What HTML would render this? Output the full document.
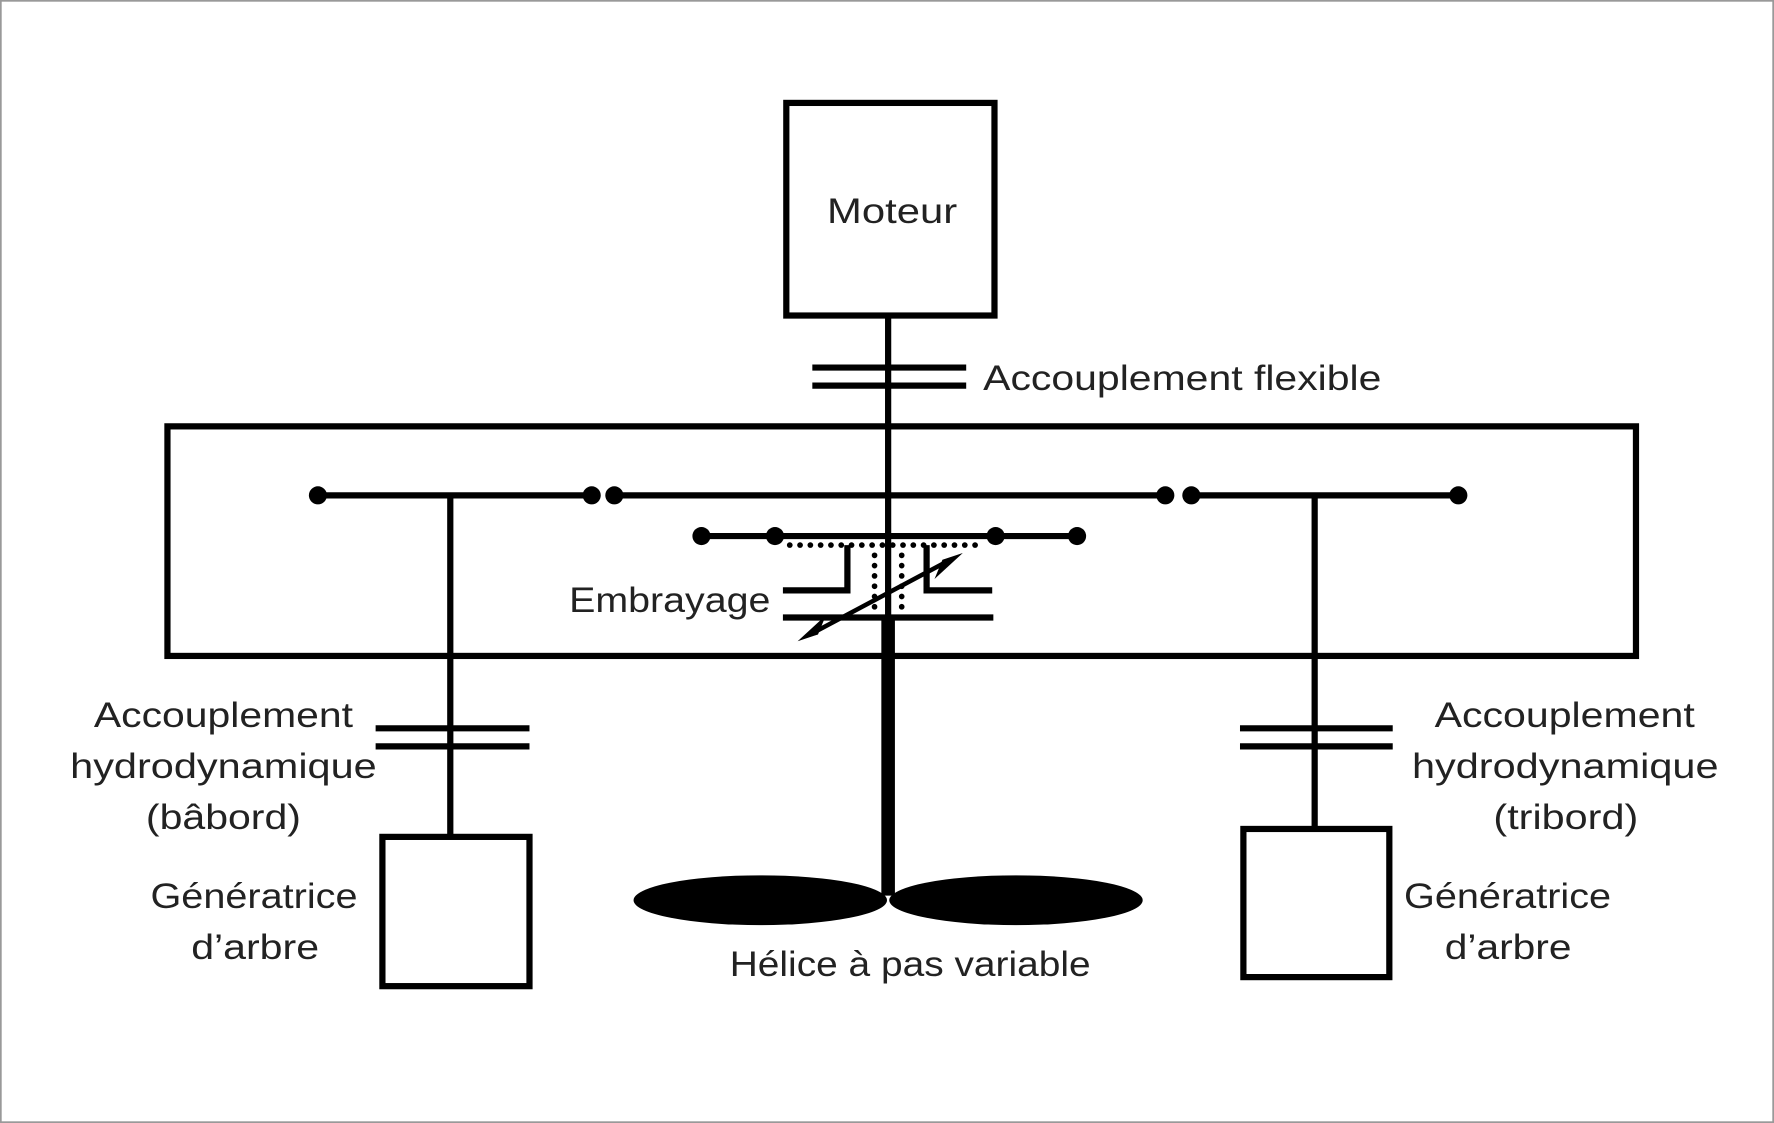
<!DOCTYPE html>
<html><head><meta charset="utf-8"><style>
html,body{margin:0;padding:0;background:#fff}
svg{display:block}
text{font-family:"Liberation Sans",sans-serif;font-size:31px;fill:#222}
</style></head><body>
<svg width="1774" height="1123" viewBox="0 0 1568 993" preserveAspectRatio="none" xmlns="http://www.w3.org/2000/svg">
<rect x="0.5" y="0.5" width="1567" height="992" fill="#fff" stroke="#999" stroke-width="2"/>
<g stroke="#000" stroke-width="5.5" fill="none">
<rect x="695" y="91" width="184" height="188"/>
<line x1="785" y1="279" x2="785" y2="548"/>
<line x1="718" y1="325" x2="854" y2="325"/>
<line x1="718" y1="341" x2="854" y2="341"/>
<rect x="148" y="377" width="1298" height="203"/>
<line x1="281" y1="438" x2="523" y2="438"/>
<line x1="543" y1="438" x2="1030" y2="438"/>
<line x1="1053" y1="438" x2="1289" y2="438"/>
<line x1="398" y1="438" x2="398" y2="740"/>
<line x1="332" y1="644" x2="468" y2="644"/>
<line x1="332" y1="660" x2="468" y2="660"/>
<rect x="338" y="740" width="130" height="132"/>
<line x1="1162" y1="438" x2="1162" y2="733"/>
<line x1="1096" y1="644" x2="1231" y2="644"/>
<line x1="1096" y1="660" x2="1231" y2="660"/>
<rect x="1099" y="733" width="129" height="131"/>
<line x1="620" y1="474" x2="952" y2="474"/>
<polyline points="749,482 749,522 692,522"/>
<polyline points="819,482 819,522 877,522"/>
<line x1="692" y1="546" x2="878" y2="546"/>
</g>
<line x1="785" y1="546" x2="785" y2="792" stroke="#000" stroke-width="12"/>
<g stroke="#000" stroke-width="5" stroke-dasharray="0.1 9" stroke-linecap="round" fill="none">
<line x1="698" y1="482" x2="865" y2="482"/>
<line x1="773" y1="491" x2="773" y2="540"/>
<line x1="797" y1="491" x2="797" y2="540"/>
</g>
<g stroke="#000" stroke-width="4">
<line x1="716" y1="561" x2="840" y2="495"/>
</g>
<polygon points="705,567 730,544 723,561" fill="#000"/>
<polygon points="851,489 826,512 833,495" fill="#000"/>
<g fill="#000">
<circle cx="281" cy="438" r="8"/><circle cx="523" cy="438" r="8"/>
<circle cx="543" cy="438" r="8"/><circle cx="1030" cy="438" r="8"/>
<circle cx="1053" cy="438" r="8"/><circle cx="1289" cy="438" r="8"/>
<circle cx="620" cy="474" r="8"/><circle cx="685" cy="474" r="8"/>
<circle cx="880" cy="474" r="8"/><circle cx="952" cy="474" r="8"/>
<ellipse cx="672" cy="796" rx="112" ry="22"/>
<ellipse cx="898" cy="796" rx="112" ry="22"/>
</g>
<g>
<text x="731" y="197" textLength="115" lengthAdjust="spacingAndGlyphs">Moteur</text>
<text x="869" y="345" textLength="352" lengthAdjust="spacingAndGlyphs">Accouplement flexible</text>
<text x="503" y="541" textLength="178" lengthAdjust="spacingAndGlyphs">Embrayage</text>
<text x="83" y="643" textLength="229" lengthAdjust="spacingAndGlyphs">Accouplement</text>
<text x="62" y="688" textLength="271" lengthAdjust="spacingAndGlyphs">hydrodynamique</text>
<text x="129" y="733" textLength="137" lengthAdjust="spacingAndGlyphs">(bâbord)</text>
<text x="133" y="803" textLength="183" lengthAdjust="spacingAndGlyphs">Génératrice</text>
<text x="169" y="848" textLength="113" lengthAdjust="spacingAndGlyphs">d’arbre</text>
<text x="1268" y="643" textLength="230" lengthAdjust="spacingAndGlyphs">Accouplement</text>
<text x="1248" y="688" textLength="271" lengthAdjust="spacingAndGlyphs">hydrodynamique</text>
<text x="1320" y="733" textLength="128" lengthAdjust="spacingAndGlyphs">(tribord)</text>
<text x="1241" y="803" textLength="183" lengthAdjust="spacingAndGlyphs">Génératrice</text>
<text x="1277" y="848" textLength="112" lengthAdjust="spacingAndGlyphs">d’arbre</text>
<text x="645" y="863" textLength="319" lengthAdjust="spacingAndGlyphs">Hélice à pas variable</text>
</g>
</svg>
</body></html>
